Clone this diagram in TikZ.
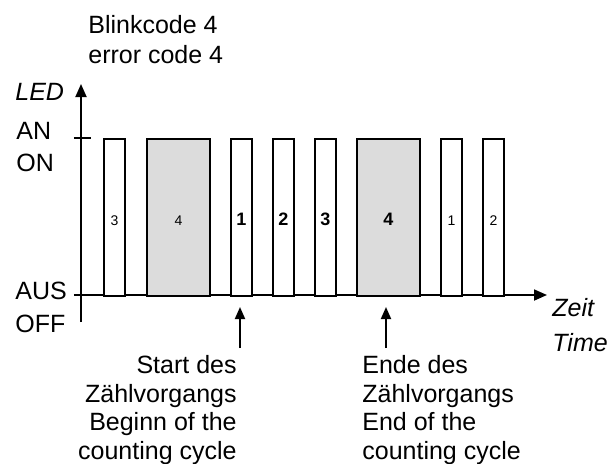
\documentclass[tikz,border=0pt]{standalone}
\usepackage{fontspec}
\setmainfont{Liberation Sans}
\usetikzlibrary{arrows.meta}
\definecolor{pulsegray}{RGB}{220,220,220}
\tikzset{
  bar/.style={draw, line width=0.9pt, fill=white, anchor=north west, minimum width=10.5pt, minimum height=78.5pt, inner sep=0pt},
  longbar/.style={bar, fill=pulsegray, minimum width=31.5pt},
  bignum/.style={anchor=base, inner sep=0pt, font=\fontsize{9}{10}\selectfont\bfseries},
  smallnum/.style={anchor=base, inner sep=0pt, font=\fontsize{7}{8}\selectfont},
  txt/.style={inner sep=0pt, font=\fontsize{12.5}{14.25}\selectfont},
  axis/.style={line width=0.9pt, -{Triangle[length=6.5pt, width=5.5pt]}},
  pointer/.style={line width=0.9pt, -{Triangle[length=6pt, width=5pt]}}
}
\begin{document}
\begin{tikzpicture}[x=0.5pt, y=-0.5pt]
      \useasboundingbox (0,0) rectangle (607,463);

      % title and axis labels
      \node[txt, anchor=north west, align=left, font=\fontsize{12.5}{15}\selectfont] at (88,15) (title) {Blinkcode 4\\error code 4};
      \node[txt, anchor=north west, font=\fontsize{12.5}{14}\selectfont\itshape] at (15,83) (led) {LED};
      \node[txt, anchor=north west, align=left, font=\fontsize{12.5}{16}\selectfont] at (16,122) (on) {AN\\ON};
      \node[txt, anchor=north west, align=left, font=\fontsize{12.5}{16.5}\selectfont] at (15,282) (off) {AUS\\OFF};
      \node[txt, anchor=north west, align=left, font=\fontsize{12.5}{17.5}\selectfont\itshape] at (552,298) (time) {Zeit\\Time};

      % axes
      \coordinate (ybot) at (81,322);
      \coordinate (ytop) at (81,84);
      \coordinate (xleft) at (74,295);
      \coordinate (xright) at (547,295);
      \coordinate (tickl) at (74,138);
      \coordinate (tickr) at (91,138);
      \draw[axis] (ybot) -- (ytop);
      \draw[axis] (xleft) -- (xright);
      \draw[line width=0.9pt] (tickl) -- (tickr);

      % pulses
      \node[bar]      at (103,138) (p1) {};
      \node[longbar]  at (146,138) (p2) {};
      \node[bar]      at (230,138) (p3) {};
      \node[bar]      at (272,138) (p4) {};
      \node[bar]      at (314,138) (p5) {};
      \node[longbar]  at (356,138) (p6) {};
      \node[bar]      at (440,138) (p7) {};
      \node[bar]      at (482,138) (p8) {};

      \node[smallnum] at (p1.center |- 0,225) {3};
      \node[smallnum] at (p2.center |- 0,225) {4};
      \node[bignum]   at (p3.center |- 0,225) {1};
      \node[bignum]   at (p4.center |- 0,225) {2};
      \node[bignum]   at (p5.center |- 0,225) {3};
      \node[bignum]   at (p6.center |- 0,225) {4};
      \node[smallnum] at (p7.center |- 0,225) {1};
      \node[smallnum] at (p8.center |- 0,225) {2};

      % start and end of the cycle
      \node[txt, anchor=north east, align=right] at (237,355) (start) {Start des\\Zählvorgangs\\Beginn of the\\counting cycle};
      \node[txt, anchor=north west, align=left] at (362,355) (end) {Ende des\\Zählvorgangs\\End of the\\counting cycle};
      \coordinate (starttail) at (240,348);
      \coordinate (starttip) at (240,307);
      \coordinate (endtail) at (386,348);
      \coordinate (endtip) at (386,307);
      \draw[pointer] (starttail) -- (starttip);
      \draw[pointer] (endtail) -- (endtip);
    \end{tikzpicture}
\end{document}
